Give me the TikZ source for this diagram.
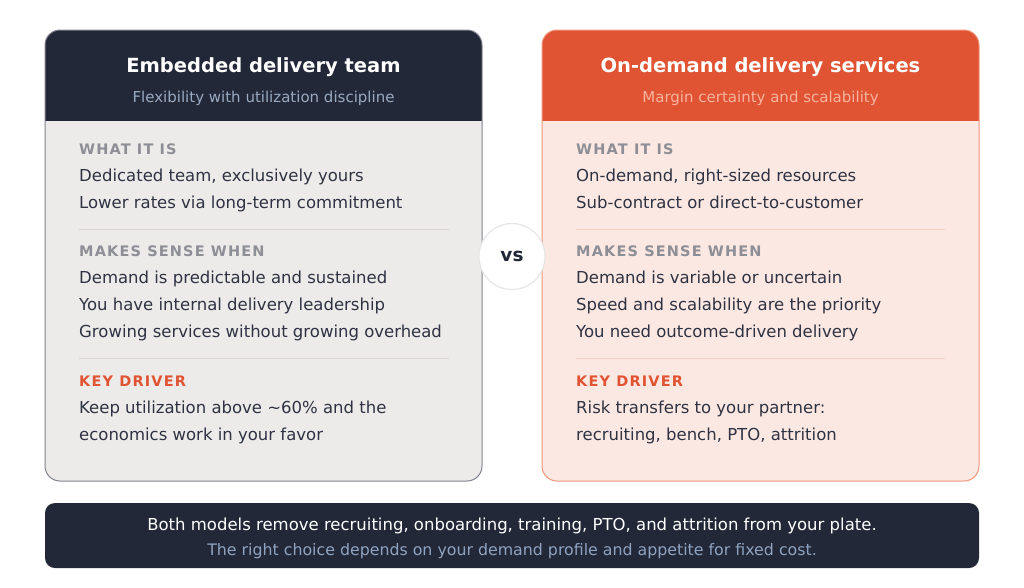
\documentclass[tikz,border=0pt]{standalone}
\usepackage{fontspec}
\setmainfont{DejaVu Sans}
\newfontfamily\lblfont{DejaVu Sans}[LetterSpace=8]
\definecolor{navy}{HTML}{222838}
\definecolor{orng}{HTML}{E05433}
\definecolor{lbody}{HTML}{EDEBE9}
\definecolor{rbody}{HTML}{FCE8E2}
\definecolor{lborder}{HTML}{80838D}
\definecolor{rborder}{HTML}{F0957A}
\definecolor{lsep}{HTML}{D9D6D3}
\definecolor{rsep}{HTML}{F7CFC3}
\definecolor{bodytext}{HTML}{2E3242}
\definecolor{lblgray}{HTML}{8E8E96}
\definecolor{lsub}{HTML}{9AA9C0}
\definecolor{rsub}{HTML}{F7B39E}
\definecolor{bsub}{HTML}{8FA3C0}
\definecolor{circborder}{HTML}{E6E6E6}
\begin{document}
\begin{tikzpicture}[x=1pt,y=-1pt,
  titletxt/.style={font=\fontsize{19.5}{23}\selectfont\bfseries, text=white, inner sep=0, anchor=base},
  subtxt/.style={font=\fontsize{15}{18}\selectfont, inner sep=0, anchor=base},
  lbltxt/.style={font=\lblfont\bfseries\fontsize{14.5}{17}\selectfont, text=lblgray, inner sep=0, anchor=base west},
  bodytxt/.style={font=\fontsize{16.5}{20}\selectfont, text=bodytext, inner sep=0, anchor=base west},
  bantxt/.style={font=\fontsize{16.5}{19}\selectfont, inner sep=0, anchor=base}]
\useasboundingbox (0,0) rectangle (1024,587);
\fill[white] (0,0) rectangle (1024,587);

% left card
\begin{scope}
  \clip[rounded corners=15] (45,30) rectangle (482,481);
  \fill[lbody] (45,30) rectangle (482,481);
  \fill[navy] (45,30) rectangle (482,121);
\end{scope}
\draw[lborder, line width=1, rounded corners=15] (45,30) rectangle (482,481);

% right card
\begin{scope}
  \clip[rounded corners=15] (542,30) rectangle (979,481);
  \fill[rbody] (542,30) rectangle (979,481);
  \fill[orng] (542,30) rectangle (979,121);
\end{scope}
\draw[rborder, line width=1, rounded corners=15] (542,30) rectangle (979,481);

% separators
\draw[lsep, line width=1] (79,229) -- (449,229);
\draw[lsep, line width=1] (79,358) -- (449,358);
\draw[rsep, line width=1] (576,229) -- (945,229);
\draw[rsep, line width=1] (576,358) -- (945,358);

% left texts
\node[titletxt] (ltitle) at (263.5,72) {Embedded delivery team};
\node[subtxt, text=lsub] (lsubt) at (263.5,102) {Flexibility with utilization discipline};
\node[lbltxt] (lw) at (79,154) {WHAT IT IS};
\node[bodytxt] (lw1) at (79,181) {Dedicated team, exclusively yours};
\node[bodytxt] (lw2) at (79,208) {Lower rates via long-term commitment};
\node[lbltxt] (lm) at (79,256) {MAKES SENSE WHEN};
\node[bodytxt] (lm1) at (79,283) {Demand is predictable and sustained};
\node[bodytxt] (lm2) at (79,310) {You have internal delivery leadership};
\node[bodytxt] (lm3) at (79,337) {Growing services without growing overhead};
\node[lbltxt, text=orng] (lk) at (79,386) {KEY DRIVER};
\node[bodytxt] (lk1) at (79,413) {Keep utilization above \char"007E 60\% and the};
\node[bodytxt] (lk2) at (79,440) {economics work in your favor};

% right texts
\node[titletxt] (rtitle) at (760.5,72) {On-demand delivery services};
\node[subtxt, text=rsub] (rsubt) at (760.5,102) {Margin certainty and scalability};
\node[lbltxt] (rw) at (576,154) {WHAT IT IS};
\node[bodytxt] (rw1) at (576,181) {On-demand, right-sized resources};
\node[bodytxt] (rw2) at (576,208) {Sub-contract or direct-to-customer};
\node[lbltxt] (rm) at (576,256) {MAKES SENSE WHEN};
\node[bodytxt] (rm1) at (576,283) {Demand is variable or uncertain};
\node[bodytxt] (rm2) at (576,310) {Speed and scalability are the priority};
\node[bodytxt] (rm3) at (576,337) {You need outcome-driven delivery};
\node[lbltxt, text=orng] (rk) at (576,386) {KEY DRIVER};
\node[bodytxt] (rk1) at (576,413) {Risk transfers to your partner:};
\node[bodytxt] (rk2) at (576,440) {recruiting, bench, PTO, attrition};

% vs circle
\node[circle, fill=white, draw=circborder, line width=1.2, minimum size=66, inner sep=0,
      text=navy, font=\fontsize{18.5}{20}\selectfont\bfseries] (vs) at (512,256.5) {vs};

% bottom banner
\fill[navy, rounded corners=10] (45,503) rectangle (979,568);
\node[bantxt, text=white] (b1) at (512,530) {Both models remove recruiting, onboarding, training, PTO, and attrition from your plate.};
\node[bantxt, text=bsub, font=\fontsize{15.8}{18}\selectfont] (b2) at (512,555) {The right choice depends on your demand profile and appetite for fixed cost.};
\end{tikzpicture}
\end{document}
